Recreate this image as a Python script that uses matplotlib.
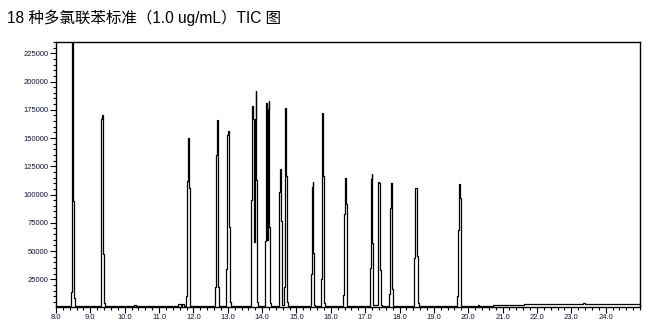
import matplotlib
matplotlib.use("Agg")
import matplotlib.pyplot as plt
from matplotlib.ticker import MultipleLocator, FormatStrFormatter

TITLE = "18 种多氯联苯标准（1.0 ug/mL）TIC 图"

# apex retention time [min] and the sampled intensities through each peak
peak_rt = [8.49, 9.36, 11.85, 12.69, 13.02, 13.82, 14.20, 14.54, 14.69,
           15.48, 15.77, 16.42, 17.20, 17.40, 17.76, 18.47, 19.74]
peak_profiles = [
    [1200, 14000, 212000, 245000, 94000, 8000, 1500],
    [1200, 29000, 167000, 170000, 47000, 4000, 1200],
    [1200, 10000, 112000, 150000, 106000, 10000, 1200],
    [1200, 18000, 135000, 166000, 116000, 18000, 1200],
    [1200, 34000, 153000, 156000, 71000, 5000, 1200],
    [1200, 95000, 178000, 167000, 58000, 167000, 192000, 113000, 5000, 1200],
    [1200, 59000, 181000, 60000, 176000, 183000, 71000, 4000, 1200],
    [1200, 16000, 102000, 123000, 77000, 2000],
    [2000, 18000, 146000, 177000, 116000, 5000, 1200],
    [1200, 30000, 107000, 111000, 48000, 2000, 1200],
    [1200, 25000, 148000, 172000, 116000, 4000, 1200],
    [1200, 11000, 83000, 115000, 92000, 8000, 1200],
    [1200, 35000, 114000, 118000, 57000, 2000],
    [2000, 60000, 111000, 110000, 33000, 2000, 1200],
    [1200, 12000, 88000, 110000, 16000, 1200],
    [1200, 44000, 106000, 106000, 46000, 4000, 1200],
    [1200, 10000, 69000, 109000, 97000, 4000, 1200],
]
DT = 0.025  # scan interval [min]

# baseline between peaks (time, intensity)
base_t = [8.0, 8.3, 9.6, 10.25, 10.3, 10.35, 11.5, 11.6, 11.65, 11.7, 11.75,
          12.0, 19.95, 20.25, 20.3, 20.35, 20.72, 20.75, 21.62, 21.65,
          23.33, 23.37, 23.41, 25.0]
base_i = [1000, 1100, 1100, 1100, 2300, 1100, 1200, 2800, 1500, 3500, 1200,
          1100, 1100, 1100, 2600, 1100, 1100, 1900, 1900, 3000,
          3000, 4400, 3000, 3000]

pts = list(zip(base_t, base_i))
for rt, prof in zip(peak_rt, peak_profiles):
    k = prof.index(max(prof))
    pts += [(rt + (i - k) * DT, v) for i, v in enumerate(prof)]
pts.sort()
t = [p[0] for p in pts]
y = [p[1] for p in pts]

plt.rcParams["font.family"] = ["Liberation Sans", "Noto Sans CJK SC", "DejaVu Sans"]
fig = plt.figure(figsize=(6.64, 3.31), dpi=100)
fig.text(7 / 664, 1 - 18 / 331, TITLE, fontsize=11.2, va="center", ha="left",
         family=["Liberation Sans", "Noto Sans CJK SC", "DejaVu Sans"])
ax = fig.add_axes([56 / 664, 1 - 306.7 / 331, 584 / 664, 264.7 / 331])
ax.plot(t, y, color="black", lw=0.9, drawstyle="steps-mid")
ax.set_xlim(8.0, 25.0)
ax.set_ylim(700, 235000)

ax.set_xticks([float(v) for v in range(8, 25)])
ax.xaxis.set_minor_locator(MultipleLocator(0.2))
ax.xaxis.set_major_formatter(FormatStrFormatter("%.1f"))
ax.set_yticks(list(range(25000, 225001, 25000)))
ax.yaxis.set_minor_locator(MultipleLocator(5000))
ax.tick_params(which="major", length=4, width=0.8, labelsize=5.5,
               labelcolor="#101040", pad=1.5)
ax.tick_params(which="minor", length=2, width=0.8)
for s in ax.spines.values():
    s.set_linewidth(1.0)

fig.savefig("out.png", dpi=100)
